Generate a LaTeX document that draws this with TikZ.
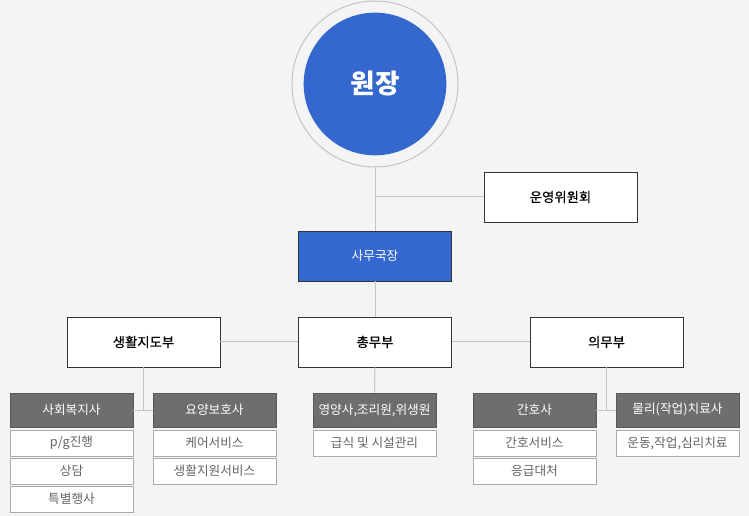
\documentclass[tikz,border=0pt]{standalone}
\usepackage{fontspec}
\setmainfont{Noto Sans CJK KR}
\newfontfamily\deptfont[FakeBold=0.5]{Noto Sans CJK KR}
\usetikzlibrary{positioning}
\definecolor{pagegrey}{RGB}{244,244,244}
\definecolor{chiefblue}{RGB}{52,104,206}
\definecolor{headgrey}{RGB}{110,110,110}
\definecolor{linkgrey}{RGB}{196,196,196}
\definecolor{itemgrey}{RGB}{170,170,170}
\definecolor{itemtext}{RGB}{100,100,100}

\begin{document}
\begin{tikzpicture}[x=0.75pt,y=-0.75pt,
  dept/.style={draw=black!80,fill=white,minimum width=114.75pt,minimum height=37.5pt,inner sep=0pt,font=\deptfont\fontsize{10}{12}\selectfont},
  bluebox/.style={dept,fill=chiefblue,text=white,font=\normalfont\fontsize{9.5}{12}\selectfont},
  headbox/.style={draw=black!65,fill=headgrey,text=white,minimum width=92.25pt,minimum height=25.5pt,inner sep=0pt,font=\fontsize{9.5}{12}\selectfont},
  itembox/.style={draw=itemgrey,fill=white,text=itemtext,minimum width=92.25pt,minimum height=19.5pt,inner sep=0pt,font=\fontsize{9.5}{12}\selectfont},
  link/.style={draw=linkgrey,line width=0.75pt}]
\useasboundingbox[fill=pagegrey] (0,0) rectangle (749,516);
% head of the chart
\node[circle,draw=linkgrey,fill=pagegrey,line width=0.75pt,minimum size=124.5pt,inner sep=0pt] (ring) at (375,84) {};
\node[circle,fill=chiefblue,text=white,minimum size=107pt,inner sep=0pt,font=\fontsize{20}{24}\selectfont\bfseries] (chief) at (375,84) {원장};
\node[dept] (board) at (560.5,197) {운영위원회};
\node[bluebox] (office) at (375,256) {사무국장};
% departments
\node[dept] (life) at (143.5,342) {생활지도부};
\node[dept] (affairs) at (375,342) {총무부};
\node[dept] (medic) at (606.5,342) {의무부};
% staff
\node[headbox] (social) at (71.5,410) {사회복지사};
\node[headbox] (carer) at (214.5,410) {요양보호사};
\node[headbox] (kitchen) at (374.5,410) {영양사,조리원,위생원};
\node[headbox] (nurse) at (534.5,410) {간호사};
\node[headbox] (therapy) at (677.5,410) {물리(작업)치료사};
\foreach \x/\y/\t in {71.5/443/{p/g진행}, 71.5/471/상담, 71.5/499/특별행사,
  214.5/443/케어서비스, 214.5/471/생활지원서비스, 374.5/443/급식 및 시설관리,
  534.5/443/간호서비스, 534.5/471/응급대처, 677.5/443/{운동,작업,심리치료}}
  \node[itembox] at (\x,\y) {\t};
% links
\draw[link] (ring.south) -- (office.north);
\draw[link] (board.west) -- (board.west -| office.north);
\draw[link] (office.south) -- (affairs.north);
\draw[link] (life.east) -- (affairs.west) (affairs.east) -- (medic.west);
\draw[link] (affairs.south) -- (kitchen.north);
\draw[link] (life.south) -- (life.south |- social.east) (social.east) -- (carer.west);
\draw[link] (medic.south) -- (medic.south |- nurse.east) (nurse.east) -- (therapy.west);
\end{tikzpicture}
\end{document}
